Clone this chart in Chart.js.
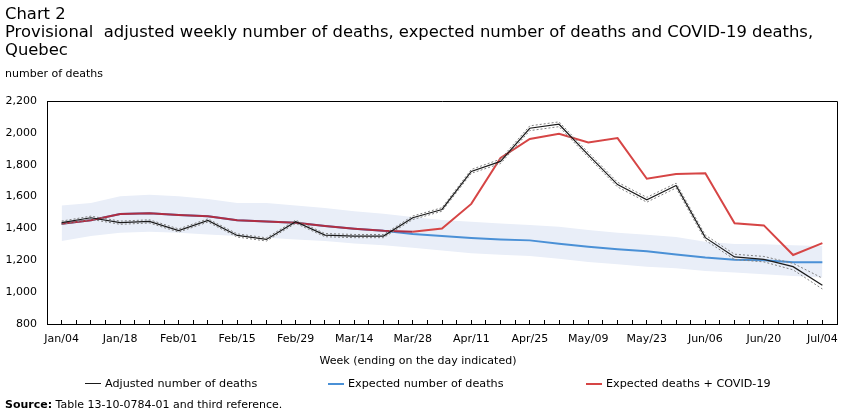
<!DOCTYPE html>
<html>
<head>
<meta charset="utf-8">
<script src="https://cdn.jsdelivr.net/npm/chart.js@4.4.1/dist/chart.umd.min.js"></script>
<style>
  body { margin: 0; background: #fff; font-family: "DejaVu Sans", Verdana, sans-serif; color: #000; }
  #wrap { position: relative; width: 851px; height: 416px; overflow: hidden; }
  #chart { position: absolute; left: 0; top: 0; }
  .txt { position: absolute; white-space: pre; }
  #title { left: 5px; top: 5px; font-size: 16.4px; line-height: 18px; }
  #unit { left: 5px; top: 67px; font-size: 11px; }
  #xtitle { left: 0; width: 836px; text-align: center; top: 354px; font-size: 11px; }
  #legend { position: absolute; left: 0; top: 377px; width: 851px; height: 16px; font-size: 11.2px; }
  .item { position: absolute; top: 0; display: flex; align-items: center; white-space: pre; }
  .item i { display: inline-block; width: 16px; margin-right: 4px; }
  #source { left: 5px; top: 398px; font-size: 11px; }
</style>
</head>
<body>
<div id="wrap">
  <canvas id="chart" width="851" height="416"></canvas>
  <div class="txt" id="title">Chart 2
Provisional  adjusted weekly number of deaths, expected number of deaths and COVID-19 deaths,
Quebec</div>
  <div class="txt" id="unit">number of deaths</div>
  <div class="txt" id="xtitle">Week (ending on the day indicated)</div>
  <div id="legend"></div>
  <div class="txt" id="source"><b>Source:</b> Table 13-10-0784-01 and third reference.</div>
</div>
<script>
// weeks (ending on the day indicated)
const weeks = ['Jan/04', 'Jan/11', 'Jan/18', 'Jan/25', 'Feb/01', 'Feb/08', 'Feb/15', 'Feb/22', 'Feb/29',
  'Mar/07', 'Mar/14', 'Mar/21', 'Mar/28', 'Apr/04', 'Apr/11', 'Apr/18', 'Apr/25', 'May/02', 'May/09',
  'May/16', 'May/23', 'May/30', 'Jun/06', 'Jun/13', 'Jun/20', 'Jun/27', 'Jul/04'];

const adjusted = [1436, 1467, 1436, 1444, 1387, 1450, 1356, 1331, 1442, 1358, 1352, 1352, 1467, 1519,
  1758, 1821, 2029, 2054, 1862, 1675, 1580, 1669, 1342, 1221, 1206, 1160, 1044];
const adjustedHigh = [1446, 1477, 1446, 1454, 1397, 1460, 1366, 1341, 1452, 1368, 1362, 1362, 1478, 1530,
  1770, 1835, 2044, 2069, 1877, 1690, 1595, 1684, 1358, 1238, 1224, 1181, 1088];
const adjustedLow = [1426, 1457, 1426, 1434, 1377, 1440, 1346, 1321, 1432, 1348, 1342, 1342, 1456, 1508,
  1746, 1807, 2014, 2039, 1847, 1660, 1565, 1654, 1326, 1205, 1190, 1140, 1020];

const expected = [1429, 1452, 1490, 1496, 1485, 1477, 1452, 1444, 1436, 1415, 1398, 1385, 1365, 1352,
  1340, 1331, 1325, 1304, 1285, 1269, 1256, 1237, 1217, 1204, 1200, 1188, 1188];
const expectedHigh = [1544, 1560, 1602, 1612, 1602, 1585, 1560, 1560, 1544, 1529, 1508, 1492, 1471, 1453,
  1442, 1431, 1421, 1410, 1390, 1373, 1360, 1346, 1317, 1302, 1300, 1294, 1290];
const expectedLow = [1321, 1352, 1373, 1379, 1373, 1362, 1352, 1342, 1331, 1321, 1306, 1294, 1279, 1262,
  1244, 1235, 1227, 1210, 1190, 1175, 1160, 1150, 1133, 1123, 1112, 1102, 1092];

const expectedCovid = [1429, 1452, 1490, 1496, 1485, 1477, 1452, 1444, 1436, 1415, 1398, 1385, 1379, 1400,
  1554, 1842, 1962, 1994, 1940, 1967, 1712, 1742, 1746, 1433, 1419, 1233, 1308];

const yTicks = [800, 1000, 1200, 1400, 1600, 1800, 2000, 2200];

const pts = arr => arr.map((v, i) => ({ x: i, y: v }));

Chart.defaults.font.family = '"DejaVu Sans", Verdana, sans-serif';
Chart.defaults.font.size = 11;
Chart.defaults.color = '#000';

const framePlugin = {
  id: 'frame',
  afterDraw(chart) {
    const { ctx, chartArea: a } = chart;
    ctx.save();
    ctx.strokeStyle = '#000';
    ctx.lineWidth = 1;
    ctx.beginPath();
    ctx.moveTo(a.left, Math.round(a.top) + 0.5);
    ctx.lineTo(Math.round(a.right) + 0.5, Math.round(a.top) + 0.5);
    ctx.lineTo(Math.round(a.right) + 0.5, a.bottom);
    ctx.stroke();
    ctx.restore();
  }
};

const chart = new Chart(document.getElementById('chart'), {
  type: 'line',
  data: {
    datasets: [
      { label: 'Adjusted number of deaths', data: pts(adjusted), borderColor: '#1a1a1a', borderWidth: 1.2, order: 0 },
      { label: 'Expected number of deaths', data: pts(expected), borderColor: '#4a90d6', borderWidth: 2, order: 3 },
      {
        label: 'Expected deaths + COVID-19', data: pts(expectedCovid), borderColor: '#d64545', borderWidth: 2, order: 2,
        segment: {
          borderColor: ctx => (expectedCovid[ctx.p1DataIndex] - expected[ctx.p1DataIndex] < 20 ? '#b02d42' : '#d64545')
        }
      },
      { label: 'ci high', data: pts(adjustedHigh), borderColor: '#808080', borderWidth: 1, borderDash: [2, 2], order: 1 },
      { label: 'ci low', data: pts(adjustedLow), borderColor: '#808080', borderWidth: 1, borderDash: [2, 2], order: 1 },
      { label: 'band high', data: pts(expectedHigh), borderColor: 'rgba(0,0,0,0)', borderWidth: 0, fill: '+1', backgroundColor: '#e9eef8', order: 5 },
      { label: 'band low', data: pts(expectedLow), borderColor: 'rgba(0,0,0,0)', borderWidth: 0, order: 6 }
    ]
  },
  options: {
    responsive: false,
    animation: false,
    locale: 'en-US',
    devicePixelRatio: 1,
    layout: { padding: { top: 101, left: 0, right: 14, bottom: 62 } },
    elements: { point: { radius: 0 }, line: { tension: 0 } },
    plugins: {
      legend: { display: false },
      tooltip: { enabled: false }
    },
    scales: {
      x: {
        type: 'linear',
        min: -0.5,
        max: weeks.length - 0.5,
        ticks: {
          stepSize: 0.5,
          autoSkip: false,
          maxRotation: 0,
          maxTicksLimit: 100,
          padding: 13,
          callback: v => (Number.isInteger(v) && v % 2 === 0 ? weeks[v] : '')
        },
        grid: { drawOnChartArea: false, drawTicks: true, tickLength: -4, color: '#000' },
        border: { color: '#000', width: 1 },
        afterFit: s => { s.height = 30; }
      },
      y: {
        min: yTicks[0],
        max: yTicks[yTicks.length - 1],
        ticks: { stepSize: 200, padding: 10 },
        grid: { display: false, drawTicks: false },
        border: { color: '#000', width: 1 },
        afterFit: s => { s.width = 47; }
      }
    }
  },
  plugins: [framePlugin]
});

// legend built from the chart's own legend items, in the reference order
const shown = ['Adjusted number of deaths', 'Expected number of deaths', 'Expected deaths + COVID-19'];
const legendX = [85, 328, 586];
const items = Chart.defaults.plugins.legend.labels.generateLabels(chart)
  .filter(it => shown.includes(it.text))
  .sort((a, b) => shown.indexOf(a.text) - shown.indexOf(b.text));
const legend = document.getElementById('legend');
items.forEach((it, k) => {
  const el = document.createElement('span');
  el.className = 'item';
  el.style.left = legendX[k] + 'px';
  const sw = document.createElement('i');
  sw.style.borderTop = (k === 0 ? 1.5 : 2) + 'px solid ' + it.strokeStyle;
  el.appendChild(sw);
  el.appendChild(document.createTextNode(it.text));
  legend.appendChild(el);
});
</script>
</body>
</html>
